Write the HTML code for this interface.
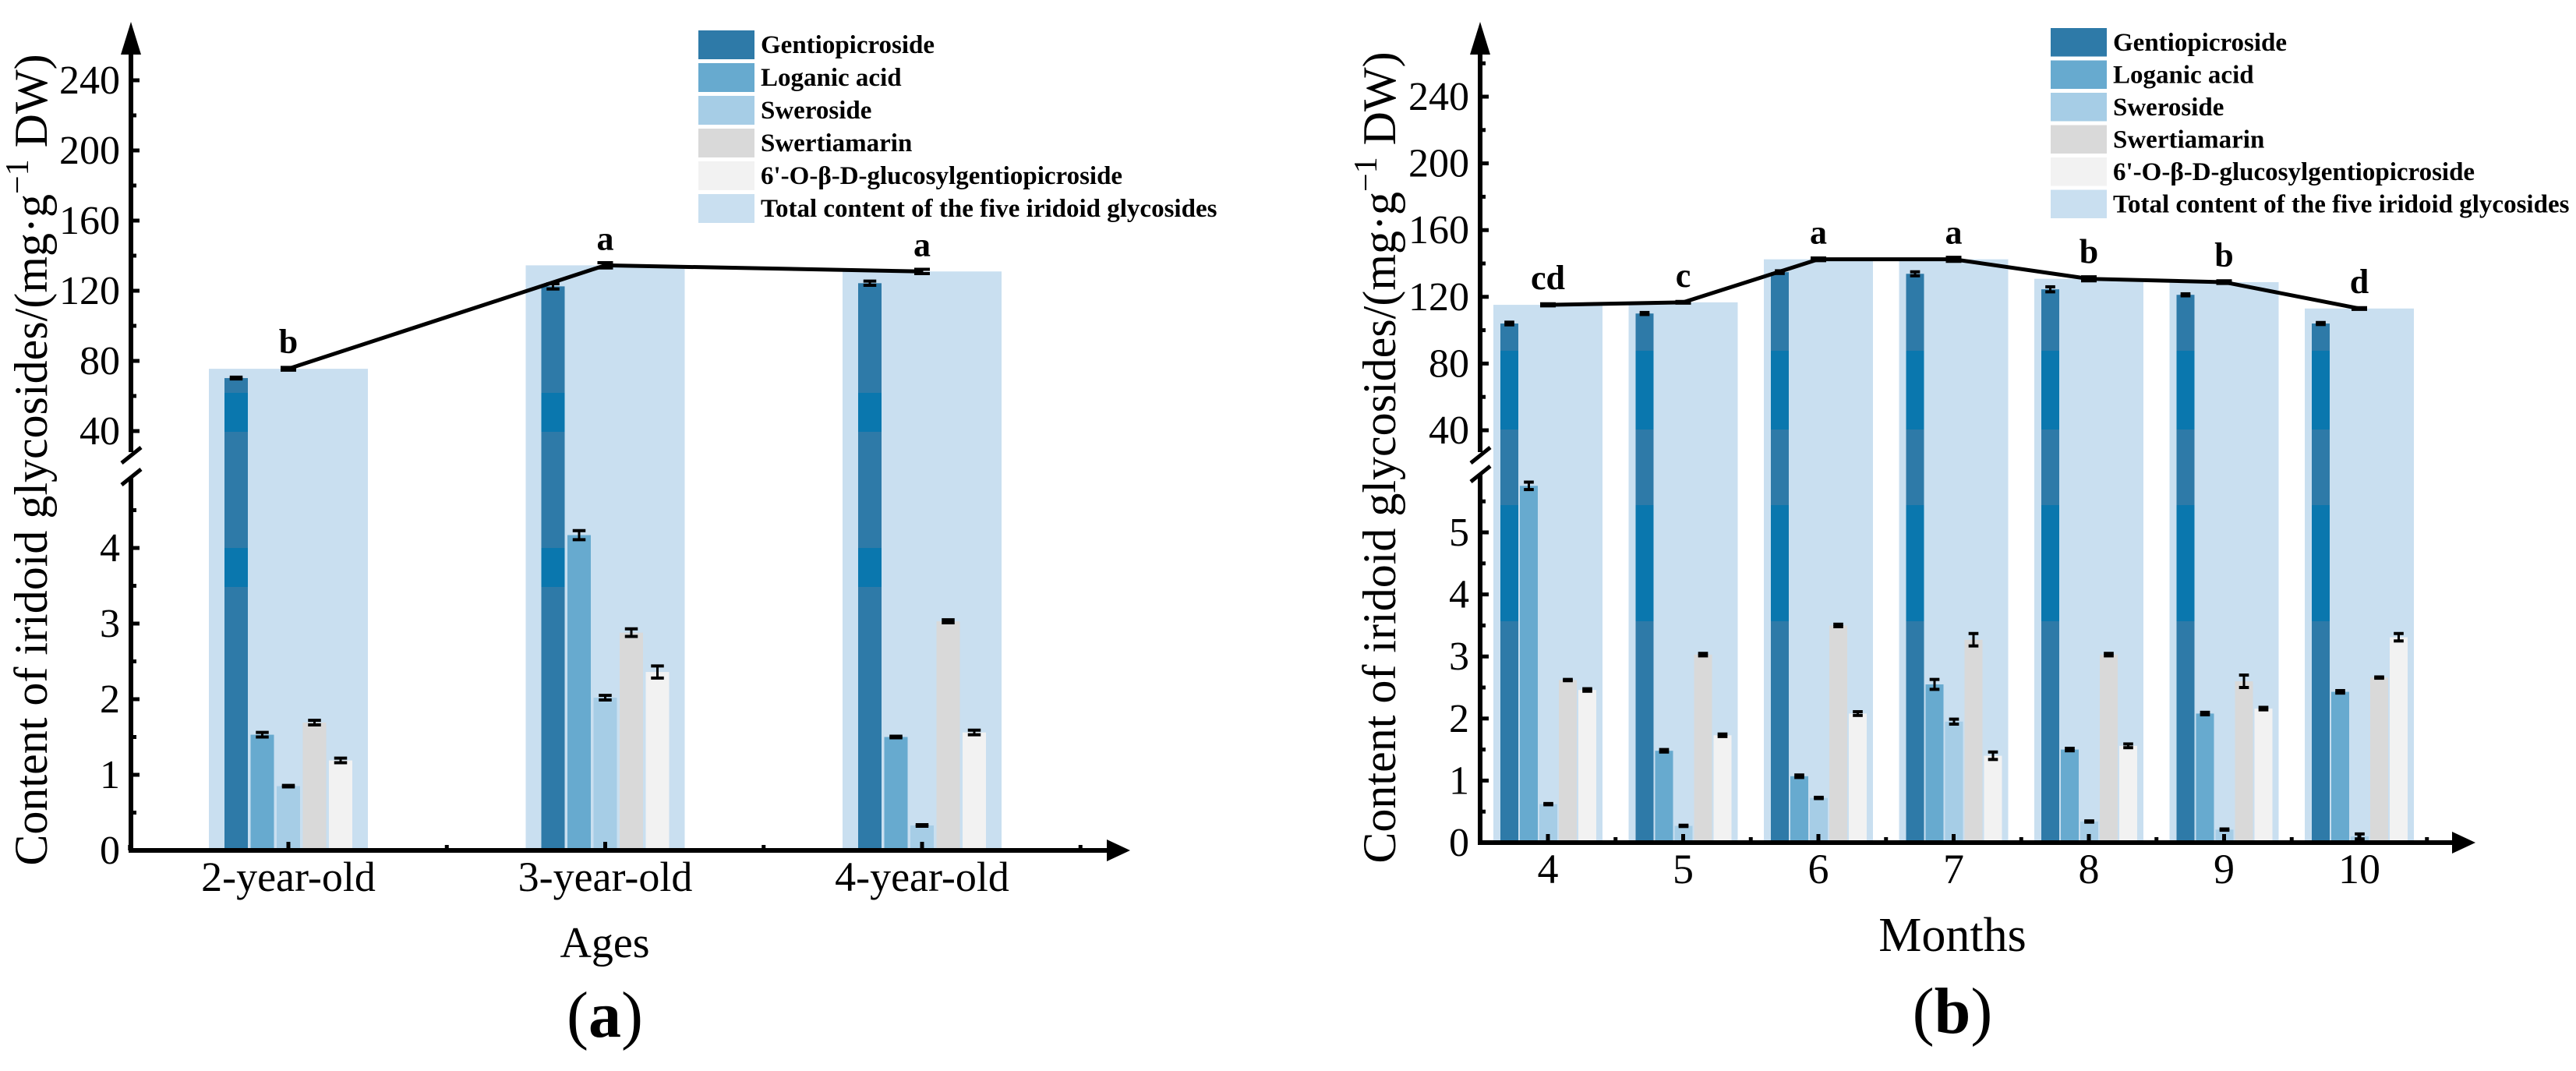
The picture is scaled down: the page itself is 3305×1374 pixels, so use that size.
<!DOCTYPE html>
<html><head><meta charset="utf-8"><style>
html,body{margin:0;padding:0;background:#fff;}
svg{display:block;}
text{font-family:"Liberation Serif","Times New Roman","Noto Serif CJK SC",serif;}
</style></head><body>
<svg id="fig" width="3305" height="1374" viewBox="0 0 3305 1374" xmlns="http://www.w3.org/2000/svg"></svg>
<script>
// ---------- Panel (a) data ----------
const agesCats = ["2-year-old","3-year-old","4-year-old"];
const aTotal = [75.5, 134.5, 131];
const aTotalErr = [0.8, 1.5, 1.2];
const aGentio = [70.2, 122.5, 124.3];
const aGentioErr = [0.5, 1.5, 1.2];
const aLoganic = [1.53, 4.17, 1.50];
const aLoganicErr = [0.03, 0.06, 0.01];
const aSwero = [0.85, 2.02, 0.33];
const aSweroErr = [0.01, 0.03, 0.01];
const aSwertia = [1.69, 2.88, 3.03];
const aSwertiaErr = [0.03, 0.05, 0.02];
const aGluco = [1.19, 2.36, 1.56];
const aGlucoErr = [0.03, 0.08, 0.03];
const aLetters = ["b","a","a"];
// ---------- Panel (b) data ----------
const monthCats = ["4","5","6","7","8","9","10"];
const bTotal = [115.2, 116.7, 142.5, 142.5, 130.8, 128.8, 113];
const bTotalErr = [0.6, 0.5, 0.8, 1.2, 1.2, 0.8, 0.5];
const bGentio = [104, 110, 134.8, 133.8, 124.5, 121.2, 104];
const bGentioErr = [0.8, 0.6, 0.8, 1.2, 1.5, 0.6, 0.6];
const bLoganic = [5.75, 1.48, 1.07, 2.55, 1.50, 2.08, 2.43];
const bLoganicErr = [0.06, 0.02, 0.02, 0.08, 0.02, 0.02, 0.02];
const bSwero = [0.62, 0.27, 0.72, 1.95, 0.34, 0.21, 0.10];
const bSweroErr = [0.01, 0.01, 0.01, 0.04, 0.01, 0.01, 0.04];
const bSwertia = [2.62, 3.03, 3.50, 3.27, 3.03, 2.60, 2.66];
const bSwertiaErr = [0.01, 0.02, 0.02, 0.1, 0.02, 0.1, 0.01];
const bGluco = [2.46, 1.73, 2.08, 1.40, 1.56, 2.16, 3.31];
const bGlucoErr = [0.02, 0.02, 0.03, 0.06, 0.03, 0.02, 0.06];
const bLetters = ["cd","c","a","a","b","b","d"];

const upperTicks = [40, 80, 120, 160, 200, 240];
const aLowerTicks = [0, 1, 2, 3, 4];
const bLowerTicks = [0, 1, 2, 3, 4, 5];
const legendNames = ["Gentiopicroside","Loganic acid","Sweroside","Swertiamarin","6'-O-β-D-glucosylgentiopicroside","Total content of the five iridoid glycosides"];
const colors = ["#2e7aa8","#67aacf","#a6cde6","#d9d9d9","#f2f2f2","#c9dff0"];

const NS = "http://www.w3.org/2000/svg";
const svg = document.getElementById("fig");
function el(tag, attrs, parent, text){
  const e = document.createElementNS(NS, tag);
  for (const k in attrs) e.setAttribute(k, attrs[k]);
  if (text !== undefined) e.textContent = text;
  (parent || svg).appendChild(e);
  return e;
}

function drawPanel(cfg){
  const g = el("g", {});
  
  
  const X0 = cfg.axisX, Y0 = cfg.axisY;
  function yv(v){
    if (v >= 30) return cfg.y240 + (240 - v) * cfg.su;
    return Y0 - v * cfg.sl;
  }
  function xc(i){ return cfg.c0 + i * cfg.step; }
  const series = cfg.series;
  cfg.total.forEach((v,i)=>{
    const r = el("rect", {x: xc(i)-cfg.bgHalf, y: yv(v), width: cfg.bgHalf*2, height: Y0 - yv(v), fill: colors[5]}, g);
    
    
  });
  series.forEach((s, si)=>{
    s.vals.forEach((v,i)=>{
      const x = xc(i) + cfg.barOff + si*cfg.pitch;
      const r = el("rect", {x: x, y: yv(v), width: cfg.bw, height: Y0 - yv(v), fill: colors[si]}, g);
      
      
      if (si === 0) {
        cfg.bands.forEach(b=>{
          const top = Math.max(b[0], yv(v));
          if (b[1] > top) el("rect", {x: x, y: top, width: cfg.bw, height: b[1]-top, fill: "#0a77ae"}, g);
        });
      }
      const e = s.err[i];
      const cx = x + cfg.bw/2;
      const cw = cfg.bw*0.55;
      const t = yv(v + e), b = yv(v - e);
      el("line", {x1: cx, x2: cx, y1: t, y2: b, stroke: "#000", "stroke-width": 3}, g);
      el("line", {x1: cx-cw/2, x2: cx+cw/2, y1: t, y2: t, stroke: "#000", "stroke-width": 4}, g);
      el("line", {x1: cx-cw/2, x2: cx+cw/2, y1: b, y2: b, stroke: "#000", "stroke-width": 4}, g);
    });
  });
  const pts = cfg.total.map((v,i)=> xc(i) + "," + yv(v)).join(" ");
  const pl = el("polyline", {points: pts, fill: "none", stroke: "#000", "stroke-width": 5}, g);
  
  
  cfg.total.forEach((v,i)=>{
    const e = cfg.totalErr[i];
    const cx = xc(i), t = yv(v+e), b = yv(v-e);
    el("line", {x1: cx, x2: cx, y1: t, y2: b, stroke: "#000", "stroke-width": 3}, g);
    el("line", {x1: cx-10, x2: cx+10, y1: t, y2: t, stroke: "#000", "stroke-width": 4}, g);
    el("line", {x1: cx-10, x2: cx+10, y1: b, y2: b, stroke: "#000", "stroke-width": 4}, g);
    const lt = el("text", {x: cx, y: yv(v) - 20, "text-anchor": "middle", "font-size": 44, "font-weight": "bold"}, g, cfg.letters[i]);
    
    
  });
  const ya = el("g", {}, g);
  
  
  el("line", {x1: X0, x2: X0, y1: Y0+3, y2: cfg.breakBot, stroke: "#000", "stroke-width": 6}, ya);
  el("line", {x1: X0, x2: X0, y1: cfg.breakTop, y2: 70, stroke: "#000", "stroke-width": 6}, ya);
  el("polygon", {points: `${X0-13},70 ${X0+13},70 ${X0},28`, fill: "#000"}, ya);
  el("line", {x1: X0-12, y1: cfg.breakTop+14, x2: X0+13, y2: cfg.breakTop-6, stroke: "#000", "stroke-width": 5}, ya);
  el("line", {x1: X0-12, y1: cfg.breakBot+10, x2: X0+13, y2: cfg.breakBot-10, stroke: "#000", "stroke-width": 5}, ya);
  for (let v = 40; v <= 260; v += 20){
    const y = yv(v);
    if (y < 75) continue;
    const major = upperTicks.includes(v);
    el("line", {x1: X0, x2: X0 + (major?11:7), y1: y, y2: y, stroke: "#000", "stroke-width": 5}, ya);
  }
  upperTicks.forEach(v=>{
    const t = el("text", {x: X0-14, y: yv(v)+17, "text-anchor": "end", "font-size": 52}, ya, String(v));
    
    
  });
  const lmax = cfg.lowerTicks[cfg.lowerTicks.length-1];
  for (let v = 0.5; v <= lmax + 0.6; v += 0.5){
    const y = yv(v);
    if (y < cfg.breakBot + 5) continue;
    const major = Math.abs(v - Math.round(v)) < 1e-6;
    el("line", {x1: X0, x2: X0 + (major?11:7), y1: y, y2: y, stroke: "#000", "stroke-width": 5}, ya);
  }
  cfg.lowerTicks.forEach(v=>{
    const t = el("text", {x: X0-14, y: yv(v)+17, "text-anchor": "end", "font-size": 52}, ya, String(v));
    
    
  });
  const xa = el("g", {}, g);
  
  
  el("line", {x1: X0-3, x2: cfg.arrowX-30, y1: Y0, y2: Y0, stroke: "#000", "stroke-width": 6}, xa);
  el("polygon", {points: `${cfg.arrowX-30},${Y0-14} ${cfg.arrowX-30},${Y0+14} ${cfg.arrowX},${Y0}`, fill: "#000"}, xa);
  cfg.cats.forEach((c,i)=>{
    el("line", {x1: xc(i), x2: xc(i), y1: Y0, y2: Y0-11, stroke: "#000", "stroke-width": 5}, xa);
    el("line", {x1: xc(i)+cfg.step/2, x2: xc(i)+cfg.step/2, y1: Y0, y2: Y0-7, stroke: "#000", "stroke-width": 5}, xa);
    const t = el("text", {x: xc(i), y: cfg.catLabelY, "text-anchor": "middle", "font-size": cfg.catFont}, xa, c);
    
    
  });
  el("line", {x1: xc(0)-cfg.step/2, x2: xc(0)-cfg.step/2, y1: Y0, y2: Y0-7, stroke: "#000", "stroke-width": 5}, xa);
  const yt = el("text", {x: 0, y: 0, "text-anchor": "middle", "font-size": 60, transform: `translate(${cfg.yTitleX},${cfg.yTitleY}) rotate(-90)`}, g);
  
  
  yt.appendChild(document.createTextNode("Content of iridoid glycosides/(mg·g"));
  el("tspan", {dy: -24, "font-size": 42}, yt, "−1");
  el("tspan", {dy: 24, "font-size": 60}, yt, " DW)");
  const xt = el("text", {x: cfg.xTitleX, y: cfg.xTitleY, "text-anchor": "middle", "font-size": cfg.xTitleFont}, g, cfg.xTitle);
  
  
  const pt = el("text", {x: cfg.xTitleX, y: cfg.panelY, "text-anchor": "middle", "font-size": 84}, g);
  
  
  pt.appendChild(document.createTextNode("("));
  el("tspan", {"font-weight": "bold"}, pt, cfg.panelLetter);
  pt.appendChild(document.createTextNode(")"));
  const lg = el("g", {}, g);
  
  
  legendNames.forEach((n,i)=>{
    const y = cfg.legY + i*cfg.legStep;
    const ent = el("g", {}, lg);
    
    
    el("rect", {x: cfg.legX, y: y, width: 72, height: cfg.legStep-5, fill: colors[i]}, ent);
    el("text", {x: cfg.legX+80, y: y+29, "font-size": 33, "font-weight": "bold"}, ent, n);
  });
}

drawPanel({
  name: "panel-a-ages", cats: agesCats, total: aTotal, totalErr: aTotalErr, letters: aLetters,
  series: [
    {key:"gentiopicroside", vals:aGentio, err:aGentioErr},
    {key:"loganic-acid", vals:aLoganic, err:aLoganicErr},
    {key:"sweroside", vals:aSwero, err:aSweroErr},
    {key:"swertiamarin", vals:aSwertia, err:aSwertiaErr},
    {key:"glucosylgentiopicroside", vals:aGluco, err:aGlucoErr}],
  axisX: 168, axisY: 1091, y240: 103, su: 2.25, sl: 97, breakTop: 580, breakBot: 612,
  c0: 370, step: 406.5, bgHalf: 102, barOff: -82, pitch: 33.5, bw: 30,
  bands: [[504,554],[703,753]], lowerTicks: aLowerTicks,
  arrowX: 1450, catLabelY: 1143, catFont: 54,
  yTitleX: 60, yTitleY: 590, xTitle: "Ages", xTitleX: 776, xTitleY: 1228, xTitleFont: 56,
  panelLetter: "a", panelY: 1330, legX: 896, legY: 39, legStep: 42
});
drawPanel({
  name: "panel-b-months", cats: monthCats, total: bTotal, totalErr: bTotalErr, letters: bLetters,
  series: [
    {key:"gentiopicroside", vals:bGentio, err:bGentioErr},
    {key:"loganic-acid", vals:bLoganic, err:bLoganicErr},
    {key:"sweroside", vals:bSwero, err:bSweroErr},
    {key:"swertiamarin", vals:bSwertia, err:bSwertiaErr},
    {key:"glucosylgentiopicroside", vals:bGluco, err:bGlucoErr}],
  axisX: 1899, axisY: 1081, y240: 124, su: 2.14, sl: 79.6, breakTop: 580, breakBot: 608,
  c0: 1986, step: 173.5, bgHalf: 70, barOff: -61, pitch: 25, bw: 23,
  bands: [[450,551],[648,797]], lowerTicks: bLowerTicks,
  arrowX: 3176, catLabelY: 1133, catFont: 54,
  yTitleX: 1790, yTitleY: 587, xTitle: "Months", xTitleX: 2505, xTitleY: 1220, xTitleFont: 62,
  panelLetter: "b", panelY: 1325, legX: 2631, legY: 36, legStep: 41.5
});
</script>
</body></html>
